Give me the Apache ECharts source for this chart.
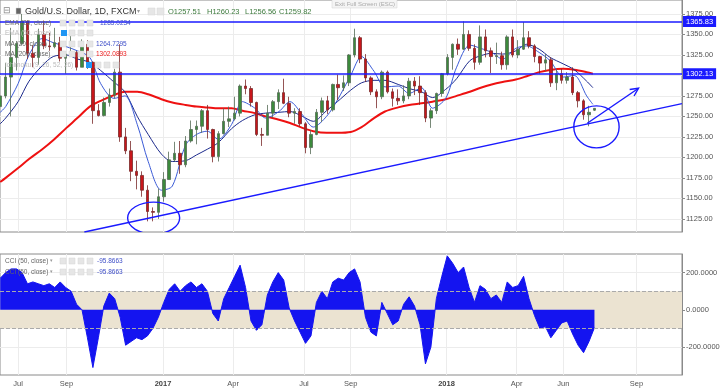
<!DOCTYPE html>
<html><head><meta charset="utf-8">
<script src="https://cdn.jsdelivr.net/npm/echarts@6/dist/echarts.min.js"></script>
<style>html,body{margin:0;padding:0;background:#fff}#c{width:725px;height:392px}</style>
</head><body><div id="c"></div>
<script>
// ---------- data ----------
const firstCandleDate = '2016-06-08'; // weekly candles (Wed of each week)
// [open, close, low, high]
const weeklyOHLC = [
[1262,1275,1258,1285],[1275,1298,1272,1315],[1298,1322,1250,1358],[1322,1339,1306,1342],[1339,1366,1337,1375],
[1366,1327,1320,1367],[1327,1322,1310,1337],[1322,1350,1313,1357],[1350,1336,1332,1367],[1336,1335,1330,1352],
[1335,1340,1333,1358],[1340,1321,1317,1347],[1321,1326,1302,1327],[1326,1328,1323,1352],[1328,1310,1306,1330],
[1310,1338,1310,1344],[1338,1316,1308,1343],[1316,1257,1241,1317],[1257,1251,1250,1265],[1251,1267,1250,1273],
[1267,1276,1262,1284],[1276,1304,1272,1308],[1304,1225,1219,1338],[1225,1208,1204,1236],[1208,1183,1171,1220],
[1183,1178,1161,1196],[1178,1160,1152,1183],[1160,1134,1122,1166],[1134,1133,1122,1139],[1133,1152,1125,1162],
[1152,1173,1146,1182],[1173,1197,1173,1207],[1197,1205,1195,1219],[1205,1191,1180,1220],[1191,1220,1188,1226],
[1220,1234,1218,1245],[1234,1238,1216,1245],[1238,1257,1230,1259],[1257,1234,1223,1264],[1234,1201,1194,1235],
[1201,1229,1195,1232],[1229,1244,1228,1260],[1244,1247,1237,1262],[1247,1254,1245,1274],[1254,1287,1250,1289],
[1287,1284,1277,1295],[1284,1267,1262,1287],[1267,1228,1226,1268],[1228,1227,1214,1236],[1227,1254,1227,1264],
[1254,1268,1248,1270],[1268,1279,1259,1283],[1279,1266,1265,1296],[1266,1254,1249,1274],[1254,1256,1241,1260],
[1256,1241,1238,1260],[1241,1212,1205,1243],[1212,1228,1204,1233],[1228,1255,1227,1259],[1255,1269,1243,1273],
[1269,1258,1253,1275],[1258,1289,1256,1290],[1289,1285,1270,1301],[1285,1291,1281,1300],[1291,1325,1287,1326],
[1325,1346,1322,1357],[1346,1320,1315,1348],[1320,1297,1292,1326],[1297,1280,1276,1299],[1280,1274,1260,1283],
[1274,1304,1271,1306],[1304,1280,1278,1306],[1280,1272,1262,1284],[1272,1269,1264,1283],[1269,1275,1266,1288],
[1275,1293,1271,1297],[1293,1287,1276,1298],[1287,1279,1264,1299],[1279,1248,1243,1282],[1248,1257,1236,1260],
[1257,1278,1253,1279],[1278,1302,1274,1303],[1302,1322,1300,1326],[1322,1338,1307,1339],[1338,1332,1325,1345],
[1332,1350,1331,1366],[1350,1333,1330,1355],[1333,1316,1307,1338],[1316,1347,1313,1361],[1347,1330,1322,1356],
[1330,1323,1303,1334],[1323,1324,1314,1340],[1324,1313,1307,1329],[1313,1347,1307,1349],[1347,1325,1322,1356],
[1325,1332,1321,1343],[1332,1346,1331,1365],[1346,1336,1333,1354],[1336,1323,1316,1338],[1323,1315,1302,1324],
[1315,1319,1305,1326],[1319,1291,1286,1322],[1291,1302,1282,1307],[1302,1294,1290,1308],[1294,1298,1290,1304],
[1298,1279,1276,1310],[1279,1269,1261,1281],[1269,1252,1246,1271],[1252,1255,1238,1263],[1257.51,1259.82,1256.56,1260.23]
];
// CCI, one value per candle week
const cciValues = [
170,200,220,220,200,140,150,140,130,140,
120,150,120,100,30,0,-150,-310,-150,20,
90,60,-40,-190,-170,-150,-160,-140,-100,-40,
40,110,140,100,130,150,120,140,100,-20,
-60,60,120,180,240,120,-60,-110,-80,80,
150,200,160,10,-60,-120,-180,-140,40,100,
60,150,170,160,200,220,150,-40,-120,-140,
40,-20,-80,-60,30,70,20,-80,-290,-200,
60,180,290,250,200,230,120,40,130,110,
60,80,40,150,120,130,180,60,-30,-100,
-90,-150,-110,-70,-60,-130,-190,-230,-170,-95.8663
];
const maDates = ['2016-06-08','2016-06-15','2016-07-01','2016-07-15','2016-08-01','2016-08-15','2016-09-01','2016-09-15',
'2016-10-01','2016-10-15','2016-11-01','2016-11-15','2016-12-01','2016-12-15','2017-01-01','2017-01-15','2017-02-01',
'2017-02-15','2017-03-01','2017-03-15','2017-04-01','2017-04-15','2017-05-01','2017-05-15','2017-06-01','2017-06-15',
'2017-07-01','2017-07-15','2017-08-01','2017-08-15','2017-09-01','2017-09-15','2017-10-01','2017-10-15','2017-11-01',
'2017-11-15','2017-12-01','2017-12-15','2018-01-01','2018-01-15','2018-02-01','2018-02-15','2018-03-01','2018-03-15',
'2018-04-01','2018-04-15','2018-05-01','2018-05-15','2018-06-01','2018-06-15','2018-07-01','2018-07-09'];
const ma200Values = [1170,1175,1187,1198,1210,1221,1236,1248,1262,1269,1276,1280,1280,1277,1271,1267,1264,
1262,1261,1260,1260,1257,1254,1250,1246,1242,1236,1232,1230,1230,1231,1237,1248,1256,1261,
1264,1266,1268,1271,1275,1280,1285,1289,1292,1295,1299,1304,1306.7,1308,1307,1304,1302.09];
const emaSlowValues = [1241,1248,1268,1293,1312,1323,1325,1320,1316,1306,1292,1280,1250,1228,1204,1195,1196,
1203,1210,1218,1235,1245,1252,1254,1255,1256,1250,1244,1257,1268,1282,1291,1294,1294,1289,
1284,1280,1273,1283,1296,1318,1324,1327,1326,1330,1338,1332,1322,1314,1307,1293,1285.02];
const maFastValues = [1255,1262,1290,1325,1345,1340,1335,1330,1322,1290,1272,1275,1240,1195,1160,1165,1215,
1228,1232,1222,1240,1268,1260,1248,1256,1268,1252,1237,1250,1270,1300,1323,1305,1286,1287,
1278,1285,1260,1272,1310,1337,1333,1328,1320,1333,1336,1328,1318,1298,1300,1275,1264.73];
const priceTicks = [1125,1150,1175,1200,1225,1250,1275,1300,1325,1350,1375];
const cciTicks = [-200,0,200];
const xTickDates = ['2016-07-01','2016-09-01','2017-01-03','2017-04-03','2017-07-03','2017-09-01','2018-01-02','2018-04-02','2018-06-01','2018-09-03'];
const xTickLabels = ['Jul','Sep','2017','Apr','Jul','Sep','2018','Apr','Jun','Sep'];
const levelLines = [1365.83, 1302.13];
const lastClose = 1259.82;
const trendLine = [['2016-09-24',1109],['2018-10-31T10:00:00Z',1265.6]];
// ellipse: [center date, center price, radius in days, radius in price]
const ellipses = [['2016-12-22',1126,33.4,19.5],['2018-07-13T14:00:00Z',1237.2,29.1,25.6]];
const arrow = [['2018-07-01T19:00:00Z',1241.7],['2018-09-05T15:00:00Z',1284.4]];
const xRange = ['2016-06-07T17:00:00Z','2018-10-31T10:00:00Z'];
const priceRange = [1109, 1392];
const cciRange = [-350, 300];

// ---------- build ----------
const DAY = 86400000;
const t = s => Date.parse(s.length === 10 ? s + 'T00:00:00Z' : s);
const candleData = weeklyOHLC.map((v, i) => [t(firstCandleDate) + i * 7 * DAY, v[0], v[1], v[2], v[3]]);
const cciData = cciValues.map((v, i) => [t(firstCandleDate) + i * 7 * DAY, v]);
const pair = vals => vals.map((v, i) => [t(maDates[i]), v]);
const tickTs = xTickDates.map(t);
const FONT = 'Liberation Sans, Arial, sans-serif';
const BLUE = '#1a1aff';

const chart = echarts.init(document.getElementById('c'), null, {renderer: 'canvas'});
const xLabelFmt = v => {
  let best = 0, bd = Infinity;
  tickTs.forEach((x, i) => { const d = Math.abs(x - v); if (d < bd) { bd = d; best = i; } });
  const s = xTickLabels[best];
  return /^\d{4}$/.test(s) ? '{b|' + s + '}' : s;
};

const option = {
  animation: false,
  backgroundColor: '#ffffff',
  textStyle: {fontFamily: FONT},
  grid: [
    {left: 0, right: 43, top: 0, height: 232, show: true, borderColor: '#8a8a8a', borderWidth: 1, backgroundColor: 'transparent'},
    {left: 0, right: 43, top: 254, height: 121, show: true, borderColor: '#8a8a8a', borderWidth: 1, backgroundColor: 'transparent'}
  ],
  xAxis: [
    {type: 'value', gridIndex: 0, min: t(xRange[0]), max: t(xRange[1]),
     axisLine: {show: false}, axisTick: {show: false, customValues: tickTs}, axisLabel: {show: false, customValues: tickTs},
     splitLine: {show: true, lineStyle: {color: '#ececec', width: 1}}},
    {type: 'value', gridIndex: 1, min: t(xRange[0]), max: t(xRange[1]),
     axisLine: {show: true, lineStyle: {color: '#8a8a8a'}},
     axisTick: {show: true, length: 3, lineStyle: {color: '#8a8a8a'}, customValues: tickTs},
     axisLabel: {show: true, customValues: tickTs, formatter: xLabelFmt, color: '#555', fontSize: 7.5, margin: 5, fontFamily: FONT,
       rich: {b: {fontWeight: 'bold', fontSize: 7.5, color: '#444', fontFamily: FONT}}},
     splitLine: {show: true, lineStyle: {color: '#ececec', width: 1}}}
  ],
  yAxis: [
    {type: 'value', gridIndex: 0, position: 'right', min: priceRange[0], max: priceRange[1],
     axisLine: {show: true, lineStyle: {color: '#8a8a8a'}},
     axisTick: {show: true, length: 3, customValues: priceTicks, lineStyle: {color: '#8a8a8a'}},
     axisLabel: {customValues: priceTicks, formatter: v => v.toFixed(2), color: '#555', fontSize: 7.5, margin: 4, fontFamily: FONT},
     splitLine: {show: true, lineStyle: {color: '#ececec'}}},
    {type: 'value', gridIndex: 1, position: 'right', min: cciRange[0], max: cciRange[1],
     axisLine: {show: true, lineStyle: {color: '#8a8a8a'}},
     axisTick: {show: true, length: 3, customValues: cciTicks, lineStyle: {color: '#8a8a8a'}},
     axisLabel: {customValues: cciTicks, formatter: v => v.toFixed(4), color: '#555', fontSize: 7.5, margin: 4, fontFamily: FONT},
     splitLine: {show: true, lineStyle: {color: '#ececec'}}}
  ],
  series: [
    {name: 'MA200', type: 'line', xAxisIndex: 0, yAxisIndex: 0, data: pair(ma200Values), smooth: 0.3, symbol: 'none',
     lineStyle: {color: '#ee1111', width: 2}, z: 2},
    {name: 'EMA', type: 'line', xAxisIndex: 0, yAxisIndex: 0, data: pair(emaSlowValues), smooth: 0.3, symbol: 'none',
     lineStyle: {color: '#1c2a8c', width: 1}, z: 2},
    {name: 'MA20', type: 'line', xAxisIndex: 0, yAxisIndex: 0, data: pair(maFastValues), smooth: 0.3, symbol: 'none',
     lineStyle: {color: '#3b5bd6', width: 1}, z: 2},
    {name: 'Gold', type: 'candlestick', xAxisIndex: 0, yAxisIndex: 0, data: candleData, barWidth: 3, z: 3,
     itemStyle: {color: '#3c8a3c', color0: '#c8161b', borderColor: '#556b55', borderColor0: '#7a2a2a', borderWidth: 0.8},
     markLine: {symbol: 'none', silent: true, animation: false,
       data: levelLines.map(v => ({yAxis: v, lineStyle: {color: BLUE, width: 1.5, type: 'solid'},
         label: {show: true, position: 'end', distance: 1, formatter: v.toFixed(2), color: '#fff', backgroundColor: BLUE,
           padding: [2, 3, 1, 3], fontSize: 7.5, fontFamily: FONT}}))
         .concat([{yAxis: lastClose, lineStyle: {opacity: 0, width: 0},
           label: {show: true, position: 'end', distance: 1, formatter: lastClose.toFixed(2), color: '#fff', backgroundColor: '#2e6a1a',
             padding: [2, 3, 1, 3], fontSize: 7.5, fontFamily: FONT}}])}},
    {name: 'trend', type: 'line', xAxisIndex: 0, yAxisIndex: 0, data: trendLine.map(p => [t(p[0]), p[1]]), symbol: 'none',
     lineStyle: {color: BLUE, width: 1.5}, z: 4},
    {name: 'ellipses', type: 'custom', xAxisIndex: 0, yAxisIndex: 0, clip: true, silent: true, z: 4,
     data: ellipses.map(e => [t(e[0]), e[1], e[2], e[3]]),
     renderItem: (params, api) => {
       const c = api.coord([api.value(0), api.value(1)]);
       const s = api.size([api.value(2) * DAY, api.value(3)]);
       return {type: 'ellipse', shape: {cx: c[0], cy: c[1], rx: s[0], ry: s[1]},
         style: {fill: 'none', stroke: BLUE, lineWidth: 1.4}};
     }},
    {name: 'arrow', type: 'custom', xAxisIndex: 0, yAxisIndex: 0, clip: true, silent: true, z: 4,
     data: [[t(arrow[0][0]), arrow[0][1], t(arrow[1][0]), arrow[1][1]]],
     encode: {x: [0, 2], y: [1, 3]},
     renderItem: (params, api) => {
       const a = api.coord([api.value(0), api.value(1)]);
       const b = api.coord([api.value(2), api.value(3)]);
       const ang = Math.atan2(b[1] - a[1], b[0] - a[0]);
       const L = 9, w = 0.45;
       const h1 = [b[0] - L * Math.cos(ang - w), b[1] - L * Math.sin(ang - w)];
       const h2 = [b[0] - L * Math.cos(ang + w), b[1] - L * Math.sin(ang + w)];
       return {type: 'group', children: [
         {type: 'line', shape: {x1: a[0], y1: a[1], x2: b[0], y2: b[1]}, style: {stroke: BLUE, lineWidth: 1.4}},
         {type: 'polyline', shape: {points: [h1, b, h2]}, style: {stroke: BLUE, fill: 'none', lineWidth: 1.4}}
       ]};
     }},
    {name: 'band', type: 'line', xAxisIndex: 1, yAxisIndex: 1, data: [], z: 1,
     markArea: {silent: true, itemStyle: {color: '#ebe3d1'}, data: [[{yAxis: 100}, {yAxis: -100}]]},
     markLine: {silent: true, symbol: 'none', label: {show: false}, lineStyle: {color: '#aaa', type: 'dashed', width: 1},
       data: [{yAxis: 100}, {yAxis: -100}]}},
    {name: 'CCI', type: 'line', xAxisIndex: 1, yAxisIndex: 1, data: cciData, symbol: 'none', z: 3,
     lineStyle: {color: '#1414f0', width: 1}, areaStyle: {color: '#1414f0', opacity: 1, origin: 0}}
  ],
  graphic: []
};

// legend / header texts
const g = [];
const txt = (x, y, s, color, size, weight) => g.push({type: 'text', left: x, top: y, z: 100,
  style: {text: s, fill: color, font: (weight || 'normal') + ' ' + size + 'px ' + FONT}});
const box = (x, y, w, h, fill) => g.push({type: 'rect', shape: {x: x, y: y, width: w, height: h}, z: 100,
  style: {fill: fill, stroke: fill === '#2196f3' ? null : '#d6d6d6', lineWidth: 0.5}});
// header row
txt(3, 6, '⊟', '#888', 9);
box(16, 8, 5, 6, '#666');
txt(25, 7, 'Gold/U.S. Dollar, 1D, FXCM', '#333', 9);
txt(137, 8, '▾', '#999', 6);
box(148, 8, 7, 7, '#e6e6e6'); box(157, 8, 7, 7, '#e6e6e6');
txt(168, 8, 'O1257.51', '#3d7a3d', 7.5);
txt(207, 8, 'H1260.23', '#3d7a3d', 7.5);
txt(245, 8, 'L1256.56', '#3d7a3d', 7.5);
txt(279, 8, 'C1259.82', '#3d7a3d', 7.5);
// indicators
const rows = [
  {y: 20, label: 'EMA (20, close)', col: '#666', icons: [60, 69, 78, 87], eye: null, val: '1285.0234', vcol: '#3f4fc8', vx: 100},
  {y: 30, label: 'EMA (50, close)', col: '#bbb', icons: [69, 78, 87], eye: 61, val: null},
  {y: 41, label: 'MA (20, close)', col: '#666', icons: [60, 69, 78, 87], eye: null, val: '1264.7295', vcol: '#3f4fc8', vx: 96},
  {y: 51, label: 'MA (200, close)', col: '#666', icons: [60, 69, 78, 87], eye: null, val: '1302.0893', vcol: '#ee2222', vx: 96},
  {y: 62, label: 'Ichimoku (9, 26, 52, 26)', col: '#bbb', icons: [95, 104, 113], eye: 86, val: null}
];
rows.forEach(r => {
  txt(5, r.y, r.label, r.col, 6.5);
  r.icons.forEach(x => box(x, r.y, 6, 6, '#e6e6e6'));
  if (r.eye) box(r.eye, r.y, 6, 6, '#2196f3');
  if (r.val) txt(r.vx, r.y, r.val, r.vcol, 6.5);
});
// CCI legend
[258, 269].forEach(y => {
  txt(5, y, 'CCI (50, close)', '#666', 6.5);
  txt(50, y, '▾', '#999', 5);
  [60, 69, 78, 87].forEach(x => box(x, y, 6, 6, '#e6e6e6'));
  txt(97, y, '-95.8663', '#3f4fc8', 6.5);
});
// tooltip box
g.push({type: 'rect', shape: {x: 332, y: -1, width: 65, height: 9}, z: 100, style: {fill: '#f4f4f4', stroke: '#d0d0d0', lineWidth: 0.5}});
txt(335, 1, 'Exit Full Screen (ESC)', '#aaa', 6);
option.graphic = g;
chart.setOption(option);
</script>
</body></html>
